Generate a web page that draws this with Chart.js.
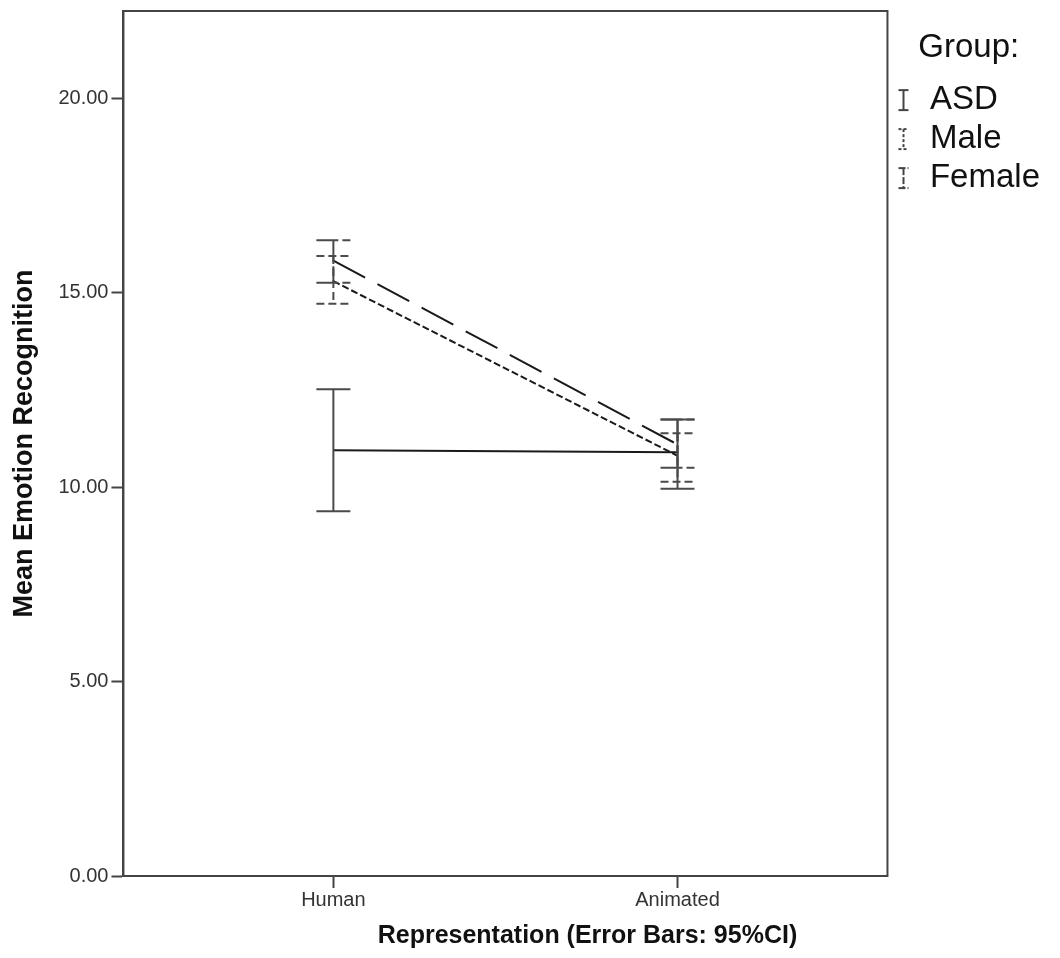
<!DOCTYPE html>
<html>
<head>
<meta charset="utf-8">
<script src="https://cdn.jsdelivr.net/npm/chart.js@4.4.1/dist/chart.umd.min.js"></script>
<style>
  html, body { margin: 0; padding: 0; background: #fff; }
  canvas { display: block; }
</style>
</head>
<body>
<canvas id="chart" width="1060" height="958"></canvas>
<script>
// x categories and groups
const categories = ['Human', 'Animated'];
const groups = ['ASD', 'Male', 'Female'];

// mean emotion recognition (Human, Animated)
const asdMeans = [10.95, 10.90];
const maleMeans = [15.30, 10.81];
const femaleMeans = [15.83, 11.10];

// 95% CI bounds
const asdLow = [9.38, 9.96];
const asdHigh = [12.52, 11.74];
const maleLow = [14.72, 10.14];
const maleHigh = [15.95, 11.39];
const femaleLow = [15.26, 10.50];
const femaleHigh = [16.35, 11.74];

const yTicks = [0, 5, 10, 15, 20];

const FONT = "'Liberation Sans', Arial, sans-serif";
Chart.defaults.font.family = FONT;

// small error bar glyph for the legend
function makeIcon(dash) {
    const c = document.createElement('canvas');
    c.width = 12;
    c.height = 24;
    const g = c.getContext('2d');
    g.strokeStyle = '#444';
    g.lineWidth = 2;
    g.setLineDash(dash);
    g.beginPath();
    g.moveTo(1, 2); g.lineTo(11, 2);
    g.moveTo(6, 2); g.lineTo(6, 22);
    g.moveTo(1, 22); g.lineTo(11, 22);
    g.stroke();
    return c;
}

const toPoints = means => categories.map((c, i) => ({ x: i + 1, y: means[i] }));

// draws the CI bars through the chart scales
const errorBars = {
    id: 'errorBars',
    afterDatasetsDraw(chart) {
        const { ctx, scales: { x, y } } = chart;
        chart.data.datasets.forEach(ds => {
            ctx.save();
            ctx.strokeStyle = '#4a4a4a';
            ctx.lineWidth = 2;
            ctx.setLineDash(ds.ciDash);
            ds.data.forEach((p, j) => {
                const px = x.getPixelForValue(p.x);
                const lo = y.getPixelForValue(ds.ciLow[j]);
                const hi = y.getPixelForValue(ds.ciHigh[j]);
                ctx.beginPath();
                ctx.moveTo(px, hi); ctx.lineTo(px, lo);
                ctx.moveTo(px - 17, hi); ctx.lineTo(px + 17, hi);
                ctx.moveTo(px - 17, lo); ctx.lineTo(px + 17, lo);
                ctx.stroke();
            });
            ctx.restore();
        });
    }
};

// box around the plot + x axis title (sits right of centre in the original)
const frame = {
    id: 'frame',
    afterDraw(chart) {
        const { ctx, chartArea: a } = chart;
        ctx.save();
        ctx.strokeStyle = '#444';
        ctx.lineWidth = 2;
        ctx.strokeRect(a.left, a.top, a.right - a.left, a.bottom - a.top);
        ctx.font = 'bold 25px ' + FONT;
        ctx.fillStyle = '#111';
        ctx.textAlign = 'center';
        ctx.fillText('Representation (Error Bars: 95%CI)', (a.left + a.right) / 2 + 82, a.bottom + 67);
        ctx.restore();
    }
};

const tickGrid = { drawOnChartArea: false, tickLength: 12, color: '#444', tickWidth: 2 };

new Chart(document.getElementById('chart'), {
    type: 'line',
    data: {
        datasets: [{
            label: groups[0],
            data: toPoints(asdMeans),
            ciLow: asdLow, ciHigh: asdHigh, ciDash: [],
            borderColor: '#1a1a1a',
            borderWidth: 2,
            pointStyle: makeIcon([])
        }, {
            label: groups[1],
            data: toPoints(maleMeans),
            ciLow: maleLow, ciHigh: maleHigh, ciDash: [8, 4],
            borderColor: '#1a1a1a',
            borderWidth: 2,
            borderDash: [7, 3],
            pointStyle: makeIcon([3, 2])
        }, {
            label: groups[2],
            data: toPoints(femaleMeans),
            ciLow: femaleLow, ciHigh: femaleHigh, ciDash: [22, 4],
            borderColor: '#1a1a1a',
            borderWidth: 2,
            borderDash: [36, 14],
            pointStyle: makeIcon([7, 2])
        }]
    },
    options: {
        responsive: false,
        animation: false,
        layout: { padding: { left: 4, top: 7, right: 10, bottom: 46 } },
        elements: { point: { radius: 0, hoverRadius: 0 }, line: { tension: 0 } },
        scales: {
            x: {
                type: 'linear',
                min: 0.39,
                max: 2.61,
                afterBuildTicks: s => { s.ticks = categories.map((c, i) => ({ value: i + 1 })); },
                ticks: {
                    callback: (v, i) => categories[i],
                    font: { size: 20 },
                    color: '#333',
                    padding: 0,
                    maxRotation: 0,
                    autoSkip: false
                },
                grid: tickGrid,
                border: { color: '#444', width: 2 }
            },
            y: {
                min: 0,
                max: 22.25,
                afterBuildTicks: s => { s.ticks = yTicks.map(v => ({ value: v })); },
                ticks: {
                    callback: v => v.toFixed(2),
                    font: { size: 20, lineHeight: 0.8 },
                    color: '#333',
                    padding: 3
                },
                grid: tickGrid,
                border: { color: '#444', width: 2 },
                title: {
                    display: true,
                    text: 'Mean Emotion Recognition',
                    font: { size: 27, weight: 'bold' },
                    color: '#111',
                    padding: { top: 4, bottom: 15 }
                }
            }
        },
        plugins: {
            tooltip: { enabled: false },
            legend: {
                position: 'right',
                align: 'start',
                title: {
                    display: true,
                    text: 'Group:',
                    font: { size: 33 },
                    color: '#111',
                    padding: { top: 24, bottom: 7 }
                },
                labels: {
                    usePointStyle: true,
                    boxWidth: 20,
                    padding: 6,
                    font: { size: 33 },
                    color: '#111'
                }
            }
        }
    },
    plugins: [errorBars, frame]
});
</script>
</body>
</html>
